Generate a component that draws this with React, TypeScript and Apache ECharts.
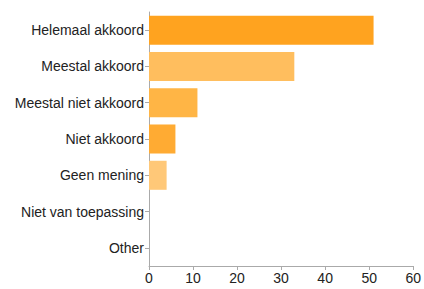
import React, { useEffect, useRef } from "react";
import * as echarts from "echarts";

const categories = [
  "Helemaal akkoord",
  "Meestal akkoord",
  "Meestal niet akkoord",
  "Niet akkoord",
  "Geen mening",
  "Niet van toepassing",
  "Other",
];
const values = [51, 33, 11, 6, 4, 0, 0];
const barColors = ["#FFA31F", "#FFBE5E", "#FFB545", "#FFAB33", "#FFC878", "#FFBE5E", "#FFBE5E"];
const xTicks = { min: 0, max: 60, interval: 10 };

export default function App() {
  const ref = useRef<HTMLDivElement>(null);
  useEffect(() => {
    document.body.style.margin = "0";
    const chart = echarts.init(ref.current!, null, { renderer: "svg" });
    chart.setOption({
      animation: false,
      grid: { left: 149, top: 12, right: 9, bottom: 23, containLabel: false },
      xAxis: {
        type: "value",
        min: xTicks.min,
        max: xTicks.max,
        interval: xTicks.interval,
        axisLine: { show: true, lineStyle: { color: "#aaaaaa", width: 1 } },
        axisTick: { show: true, length: 4, lineStyle: { color: "#aaaaaa" } },
        splitLine: { show: false },
        axisLabel: {
          color: "#222222",
          fontSize: 14,
          fontFamily: "Liberation Sans, Arial, sans-serif",
          margin: 5,
        },
      },
      yAxis: {
        type: "category",
        data: categories,
        inverse: true,
        axisLine: { show: true, lineStyle: { color: "#aaaaaa", width: 1 } },
        axisTick: { show: true, length: 4, alignWithLabel: true, lineStyle: { color: "#aaaaaa" } },
        axisLabel: {
          color: "#222222",
          fontSize: 14,
          fontFamily: "Liberation Sans, Arial, sans-serif",
          margin: 5,
        },
      },
      series: [
        {
          type: "bar",
          data: values.map((v, i) => ({ value: v, itemStyle: { color: barColors[i] } })),
          barCategoryGap: "20%",
        },
      ],
    });
    return () => chart.dispose();
  }, []);
  return <div ref={ref} style={{ width: 424, height: 289 }} />;
}
